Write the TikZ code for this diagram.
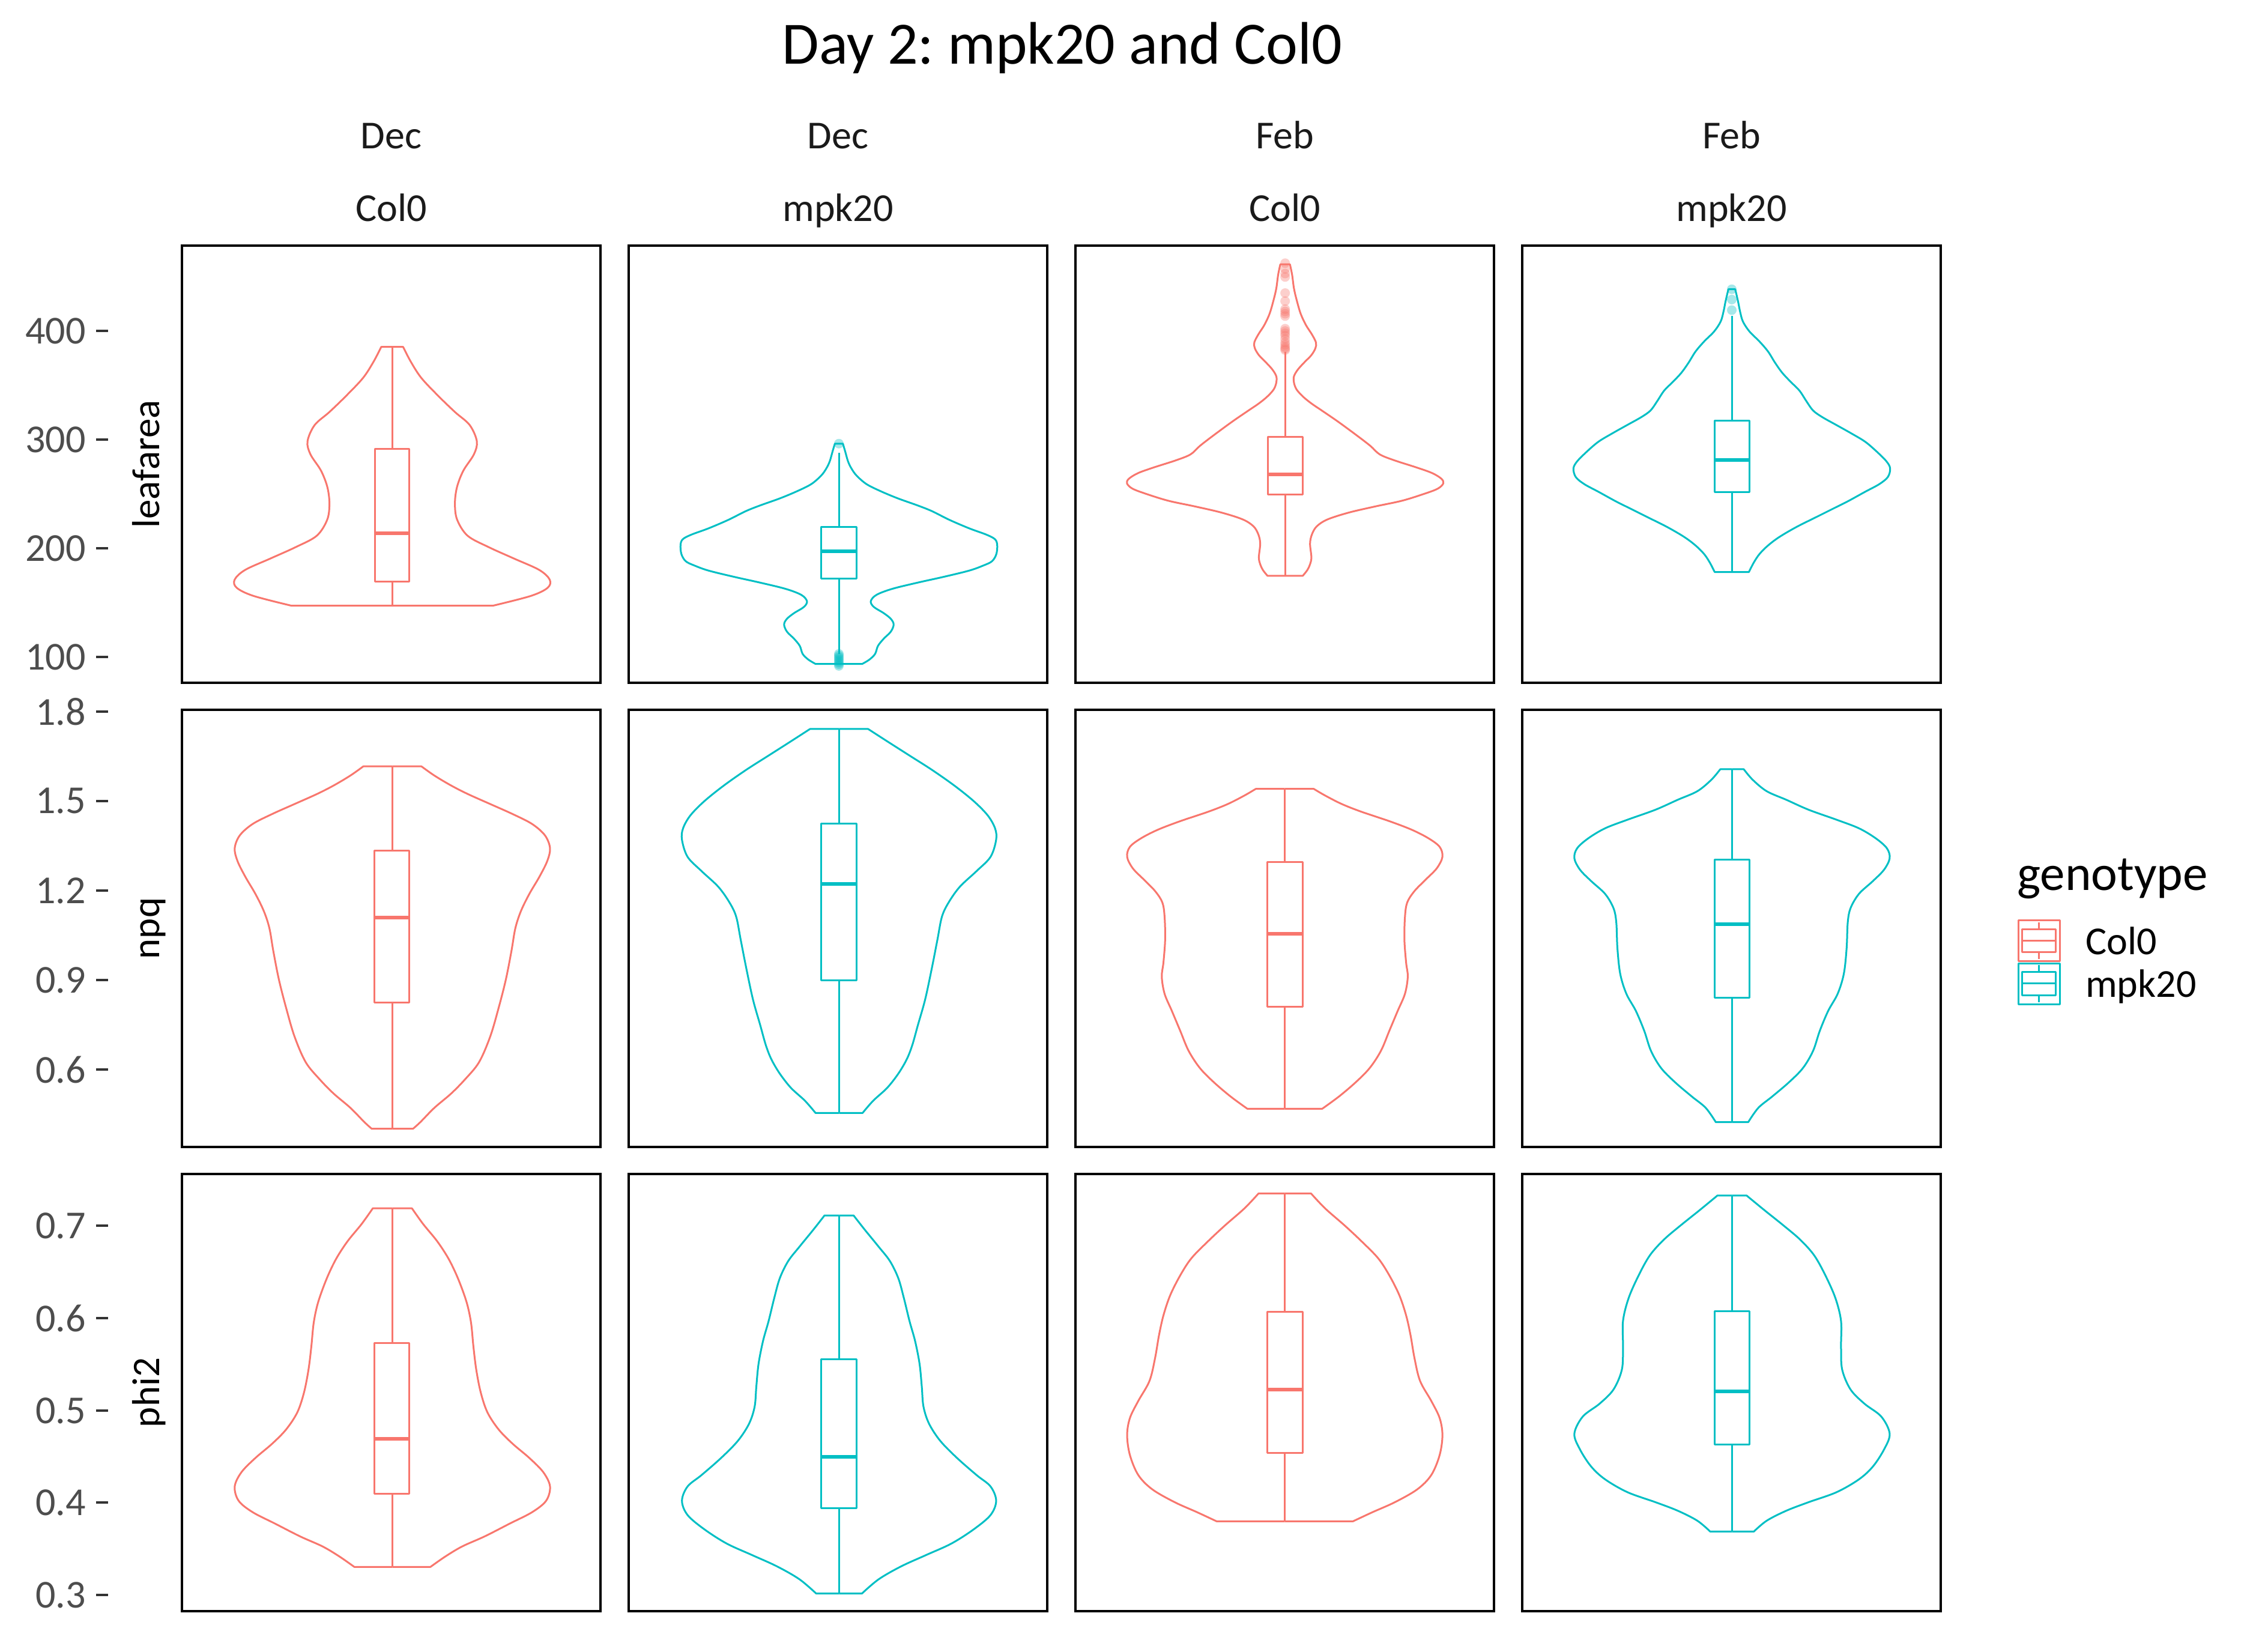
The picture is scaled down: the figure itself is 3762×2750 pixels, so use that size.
\documentclass[tikz,border=0pt]{standalone}
\usepackage{fontspec}
\setmainfont{Carlito}
\frenchspacing
\definecolor{colA}{HTML}{F8766D}
\definecolor{colB}{HTML}{00BFC4}
\definecolor{ticktext}{HTML}{4D4D4D}
\definecolor{tickline}{HTML}{333333}
\definecolor{striptext}{HTML}{1A1A1A}
\tikzset{
  vl/.style={line width=3pt, line join=round},
  panelbox/.style={draw=black, line width=4pt},
  tickmark/.style={draw=tickline, line width=4pt},
  ticklab/.style={text=ticktext, font=\fontsize{66}{70}\selectfont, inner sep=0pt, anchor=east},
  striplab/.style={text=striptext, font=\fontsize{66}{70}\selectfont, inner sep=0pt, anchor=base},
  axtitle/.style={text=black, font=\fontsize{65}{70}\selectfont, inner sep=0pt, anchor=base, rotate=90},
  leglab/.style={text=black, font=\fontsize{66}{70}\selectfont, inner sep=0pt, anchor=base west},
}
% right half of a violin, drawn twice (mirrored about cx)
\newcommand{\vhalf}[4]{%
  \draw[vl] (#1,#2) -- plot[smooth,tension=0.55] coordinates {#4} -- (#1,#3);
  \begin{scope}[shift={(2*#1,0)},xscale=-1]
    \draw[vl] (#1,#2) -- plot[smooth,tension=0.55] coordinates {#4} -- (#1,#3);
  \end{scope}}
% box: x1 x2 ytop ybot ymed cx whiskertop whiskerbottom
\newcommand{\vboxp}[8]{%
  \draw[vl] (#1,#3) rectangle (#2,#4);
  \draw[vl,line width=6pt] (#1,#5) -- (#2,#5);
  \draw[vl] (#6,#7) -- (#6,#3);
  \draw[vl] (#6,#4) -- (#6,#8);}
\newcommand{\outl}[2]{\fill[fill opacity=0.35] (#1,#2) circle[radius=8pt];}
\begin{document}
\begin{tikzpicture}[x=1pt,y=-1pt]
\fill[white] (0,0) rectangle (3762,2750);
\useasboundingbox (0,0) rectangle (3762,2750);

% ---------- title ----------
\node[font=\fontsize{100}{104}\selectfont, inner sep=0pt, anchor=base] (title) at (1769,106) {Day 2: mpk20 and Col0};

% ---------- strips ----------
\node[striplab] (s1a) at (651.5,247) {Dec};
\node[striplab] (s1b) at (651.5,368) {Col0};
\node[striplab] (s2a) at (1395.5,247) {Dec};
\node[striplab] (s2b) at (1395.5,368) {mpk20};
\node[striplab] (s3a) at (2139.5,247) {Feb};
\node[striplab] (s3b) at (2139.5,368) {Col0};
\node[striplab] (s4a) at (2883.5,247) {Feb};
\node[striplab] (s4b) at (2883.5,368) {mpk20};

% ---------- y axis titles ----------
\node[axtitle] (yt1) at (265,773) {leafarea};
\node[axtitle] (yt2) at (265,1546) {npq};
\node[axtitle] (yt3) at (265,2319) {phi2};

% ---------- ticks ----------
\foreach \y/\l [count=\i] in {551/400,732/300,913/200,1094/100,
  1185/1.8,1334/1.5,1483/1.2,1632/0.9,1781/0.6,
  2041/0.7,2195/0.6,2349/0.5,2502/0.4,2656/0.3}{
  \draw[tickmark] (160,\y) -- (180,\y);
  \node[ticklab] (tick\i) at (143,\y) {\l};
}

% ---------- row 1: leafarea ----------
\begin{scope}[shift={(0,350)},x=0.7015pt,y=-0.5421pt,color=colA]
\vhalf{931}{420}{1215}{(957,420) (975,465) (1000,515) (1040,570) (1080,620) (1115,660) (1132,710) (1125,750) (1100,800) (1085,850) (1080,900) (1085,950) (1110,1000) (1160,1035) (1220,1070) (1280,1105) (1305,1135) (1300,1160) (1260,1185) (1170,1215)}
\vboxp{890}{972}{733}{1140}{993}{931}{420}{1215}
\end{scope}

\begin{scope}[shift={(1025,400)},x=0.4751pt,y=-0.4751pt,color=colB]
\vhalf{783}{713}{1485}{(797,713) (805,740) (815,775) (827,800) (845,825) (880,855) (930,880) (990,905) (1060,930) (1110,950) (1170,980) (1240,1010) (1300,1032) (1330,1048) (1338,1068) (1335,1100) (1320,1125) (1290,1140) (1240,1158) (1150,1180) (1060,1200) (970,1222) (915,1243) (895,1265) (905,1285) (940,1307) (965,1327) (975,1347) (965,1372) (940,1397) (920,1422) (910,1450) (890,1470) (865,1485)}
\vboxp{720}{846}{1005}{1185}{1090}{783}{745}{1450}
\foreach \oy in {713,1450,1456,1462,1468,1474,1480,1486,1492}{\outl{783}{\oy}}
\end{scope}

\begin{scope}[shift={(1800,400)},x=0.4464pt,y=-0.3827pt,color=colA]
\vhalf{762}{105}{1460}{(780,105) (788,150) (795,210) (805,260) (820,320) (840,370) (862,410) (877,445) (875,470) (860,500) (835,530) (810,562) (795,592) (795,620) (805,650) (830,682) (862,712) (900,742) (960,790) (1030,850) (1080,895) (1115,932) (1170,958) (1250,988) (1310,1013) (1345,1038) (1352,1058) (1333,1080) (1290,1100) (1200,1133) (1100,1158) (1000,1185) (920,1215) (880,1245) (862,1280) (855,1320) (860,1380) (855,1410) (845,1435) (828,1460)}
\vboxp{697}{827}{857}{1107}{1020}{762}{485}{1460}
\foreach \oy in {100,125,145,160,230,265,300,310,320,330,385,395,405,415,430,445,455,465,472,478}{\outl{762}{\oy}}
\end{scope}

\begin{scope}[shift={(2512,400)},x=0.4751pt,y=-0.4751pt,color=colB]
\vhalf{783}{172}{1163}{(795,172) (805,215) (812,250) (822,285) (845,320) (880,355) (910,390) (935,430) (960,465) (990,497) (1020,527) (1045,565) (1068,597) (1100,620) (1150,648) (1200,676) (1250,706) (1290,740) (1325,775) (1338,800) (1330,830) (1300,855) (1250,882) (1190,915) (1140,940) (1080,970) (1010,1005) (950,1040) (910,1070) (880,1100) (860,1130) (843,1163)}
\vboxp{722}{845}{632}{882}{770}{783}{265}{1163}
\foreach \oy in {172,208,245}{\outl{783}{\oy}}
\end{scope}

% ---------- row 2: npq ----------
\begin{scope}[shift={(295,1175)},x=0.931pt,y=-0.4751pt]
\begin{scope}[color=colA]
\vhalf{385}{213}{1483}{(437,213) (460,245) (490,280) (520,310) (560,345) (600,380) (635,415) (658,455) (667,500) (662,545) (648,600) (630,660) (615,720) (605,780) (598,860) (588,960) (575,1060) (560,1160) (540,1250) (515,1310) (490,1360) (460,1410) (435,1460) (422,1483)}
\vboxp{353}{415}{508}{1040}{744}{385}{213}{1483}
\end{scope}
\begin{scope}[color=colB]
\vhalf{1184}{82}{1428}{(1236,82) (1270,125) (1310,175) (1350,225) (1390,280) (1425,335) (1450,385) (1463,430) (1465,470) (1455,530) (1430,580) (1400,635) (1380,690) (1368,740) (1360,820) (1350,920) (1338,1030) (1325,1120) (1315,1190) (1305,1240) (1290,1290) (1270,1340) (1245,1385) (1226,1428)}
\vboxp{1152}{1215}{413}{963}{625}{1184}{82}{1428}
\end{scope}
\end{scope}

\begin{scope}[shift={(1783,1175)},x=0.931pt,y=-0.4751pt]
\begin{scope}[color=colA]
\vhalf{383}{292}{1413}{(435,292) (455,315) (485,345) (520,372) (570,405) (610,435) (640,465) (660,495) (665,530) (655,570) (635,610) (615,650) (602,690) (598,740) (597,820) (600,900) (603,950) (598,1010) (585,1070) (570,1140) (555,1210) (535,1270) (510,1320) (480,1370) (450,1413)}
\vboxp{352}{415}{548}{1055}{800}{383}{292}{1413}
\end{scope}
\begin{scope}[color=colB]
\vhalf{1183}{223}{1460}{(1204,223) (1220,260) (1245,300) (1280,330) (1320,365) (1370,400) (1410,430) (1440,465) (1460,500) (1465,535) (1455,575) (1435,615) (1410,660) (1395,710) (1390,760) (1388,850) (1383,940) (1372,1010) (1355,1070) (1340,1140) (1328,1210) (1310,1270) (1285,1320) (1255,1370) (1230,1410) (1212,1460)}
\vboxp{1152}{1214}{540}{1023}{766}{1183}{223}{1460}
\end{scope}
\end{scope}

% ---------- row 3: phi2 ----------
\begin{scope}[shift={(295,1948)},x=0.931pt,y=-0.4751pt]
\begin{scope}[color=colA]
\vhalf{385}{135}{1392}{(420,135) (440,190) (465,250) (485,310) (500,370) (512,430) (520,480) (526,540) (530,620) (535,700) (543,780) (555,850) (575,910) (600,960) (630,1010) (655,1060) (667,1110) (660,1160) (635,1200) (595,1240) (550,1285) (510,1320) (480,1355) (453,1392)}
\vboxp{353}{415}{608}{1135}{942}{385}{135}{1392}
\end{scope}
\begin{scope}[color=colB]
\vhalf{1184}{160}{1485}{(1210,160) (1230,210) (1255,270) (1275,320) (1290,380) (1300,450) (1310,530) (1320,600) (1328,680) (1332,760) (1335,830) (1345,890) (1365,950) (1395,1010) (1430,1070) (1455,1110) (1465,1160) (1455,1210) (1425,1260) (1385,1310) (1340,1350) (1295,1390) (1255,1435) (1225,1485)}
\vboxp{1152}{1215}{663}{1187}{1005}{1184}{160}{1485}
\end{scope}
\end{scope}

\begin{scope}[shift={(1783,1948)},x=0.931pt,y=-0.4751pt]
\begin{scope}[color=colA]
\vhalf{383}{83}{1232}{(430,83) (455,135) (490,195) (520,250) (550,310) (570,370) (588,440) (600,510) (608,580) (615,660) (625,740) (645,810) (660,870) (665,930) (660,1000) (645,1070) (620,1120) (580,1165) (540,1200) (505,1232)}
\vboxp{352}{415}{497}{993}{770}{383}{83}{1232}
\end{scope}
\begin{scope}[color=colB]
\vhalf{1183}{90}{1268}{(1209,90) (1240,140) (1275,195) (1305,245) (1330,300) (1350,370) (1368,450) (1378,530) (1378,620) (1380,700) (1395,770) (1420,820) (1450,865) (1465,925) (1455,980) (1435,1040) (1410,1085) (1370,1130) (1320,1165) (1280,1195) (1245,1230) (1222,1268)}
\vboxp{1152}{1214}{495}{963}{776}{1183}{90}{1268}
\end{scope}
\end{scope}

% ---------- panel borders ----------
\foreach \px [count=\c] in {303,1047,1791,2535}{
  \foreach \py [count=\r] in {409,1182,1955}{
    \draw[panelbox] (\px,\py) rectangle ++(697,728);
  }
}

% ---------- legend ----------
\node[font=\fontsize{83}{86}\selectfont, inner sep=0pt, anchor=base west] (legtitle) at (3359,1482) {genotype};
\begin{scope}[color=colA]
\draw[vl] (3361,1532) rectangle (3430,1600);
\draw[vl] (3367,1547) rectangle (3423,1585);
\draw[vl] (3367,1566) -- (3423,1566);
\draw[vl] (3395,1536) -- (3395,1547);
\draw[vl] (3395,1585) -- (3395,1597);
\end{scope}
\begin{scope}[color=colB]
\draw[vl] (3361,1604) rectangle (3430,1672);
\draw[vl] (3367,1618) rectangle (3423,1657);
\draw[vl] (3367,1637) -- (3423,1637);
\draw[vl] (3395,1607) -- (3395,1618);
\draw[vl] (3395,1657) -- (3395,1669);
\end{scope}
\node[leglab] (leg1) at (3473,1589) {Col0};
\node[leglab] (leg2) at (3473,1660) {mpk20};
\end{tikzpicture}
\end{document}
